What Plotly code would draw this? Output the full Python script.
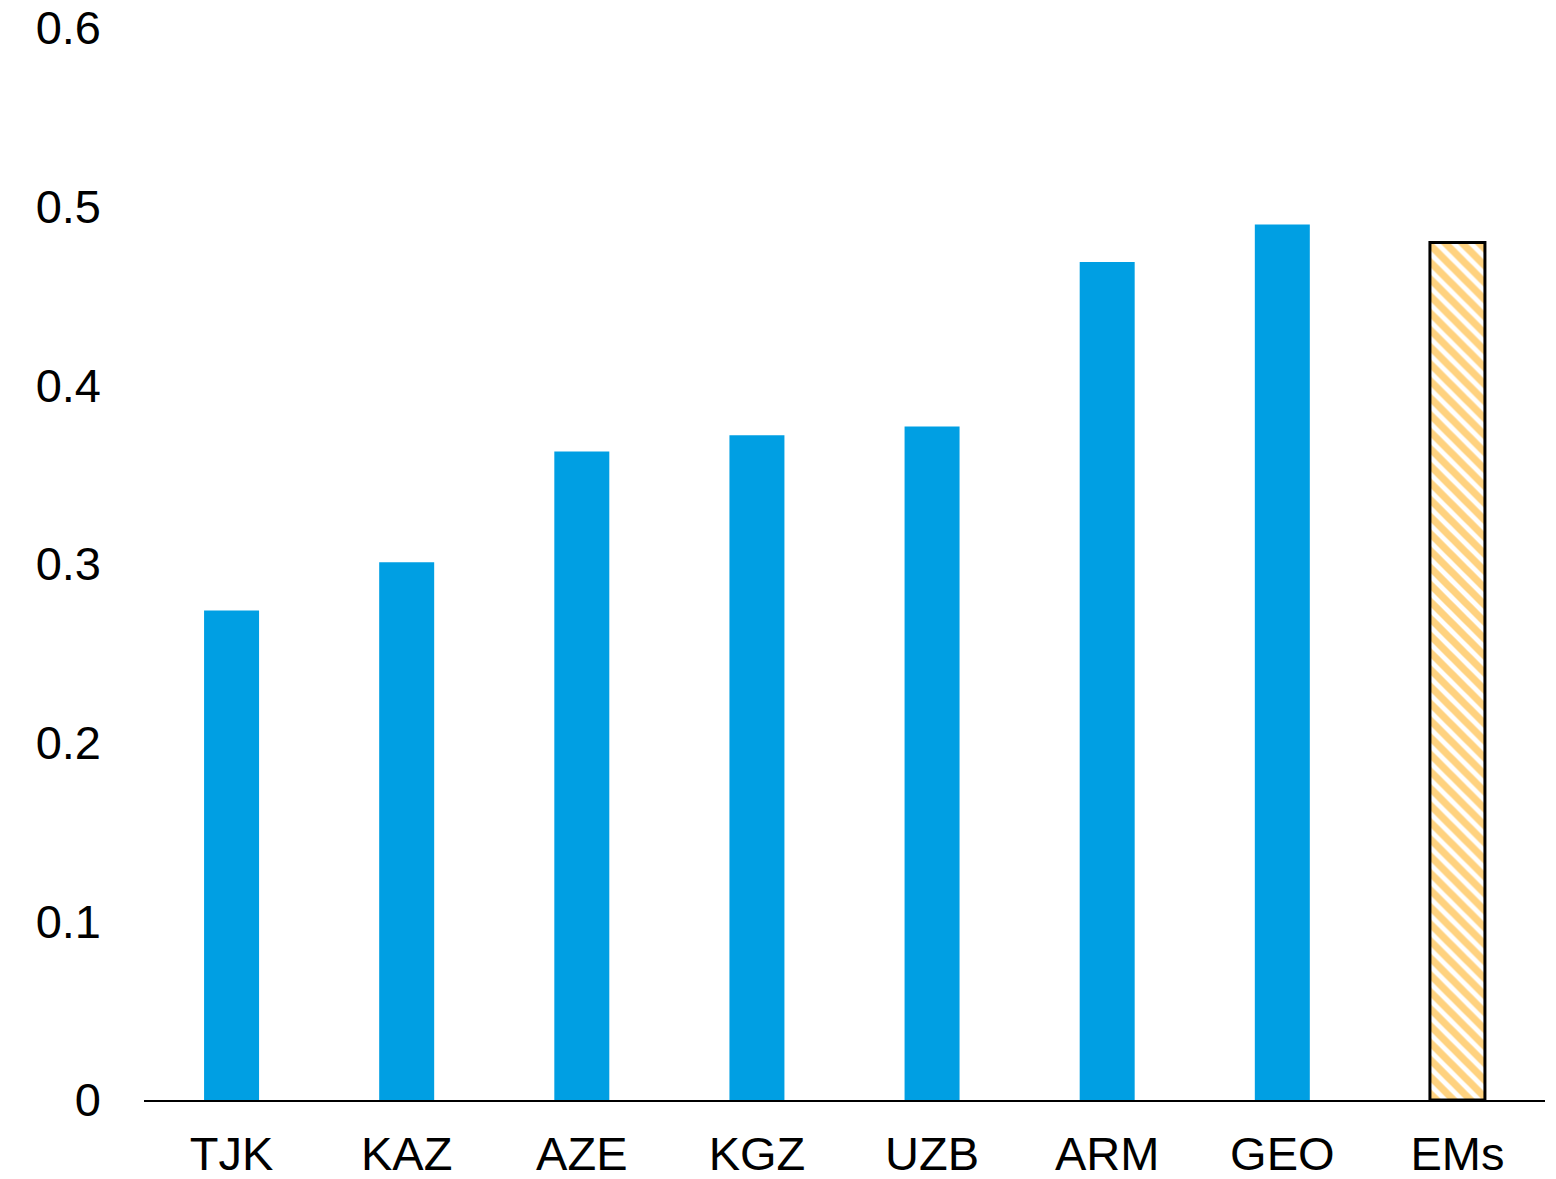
import plotly.graph_objects as go

categories = ["TJK", "KAZ", "AZE", "KGZ", "UZB", "ARM", "GEO", "EMs"]
values = [0.274, 0.301, 0.363, 0.372, 0.377, 0.469, 0.490, 0.480]

y_ticks = [0, 0.1, 0.2, 0.3, 0.4, 0.5, 0.6]
y_tick_labels = ["0", "0.1", "0.2", "0.3", "0.4", "0.5", "0.6"]

blue = "#009FE3"
orange = "#FFA500"

fig = go.Figure()
fig.add_trace(go.Bar(
    x=categories[:-1], y=values[:-1],
    marker=dict(color=blue, line=dict(width=0)),
    width=0.314,
))
fig.add_trace(go.Bar(
    x=categories[-1:], y=values[-1:],
    marker=dict(color="white",
                line=dict(color="black", width=3),
                pattern=dict(shape="\\", fgcolor=orange, bgcolor="white",
                             size=12, solidity=0.6, fillmode="overlay")),
    width=0.314,
))

font = dict(family="Liberation Sans, Arial, sans-serif", size=47, color="black")
fig.update_layout(
    width=1548, height=1171,
    margin=dict(l=136, r=11, t=20, b=79, autoexpand=False),
    plot_bgcolor="white", paper_bgcolor="white",
    showlegend=False,
    barmode="overlay",
    font=font,
)
fig.update_xaxes(
    categoryorder="array", categoryarray=categories,
    range=[-0.5, 7.5], automargin=False,
    showline=True, linecolor="black", linewidth=2,
    showgrid=False, zeroline=False,
    ticks="", ticklabelstandoff=12,
    ticklabeloverflow="allow",
    tickfont=font,
)
fig.update_yaxes(
    range=[0, 0.6], automargin=False,
    tickvals=y_ticks, ticktext=y_tick_labels,
    showline=False, showgrid=False, zeroline=False,
    ticks="", ticklabelstandoff=42,
    ticklabeloverflow="allow",
    tickfont=font,
)

fig.write_html("out.html")
